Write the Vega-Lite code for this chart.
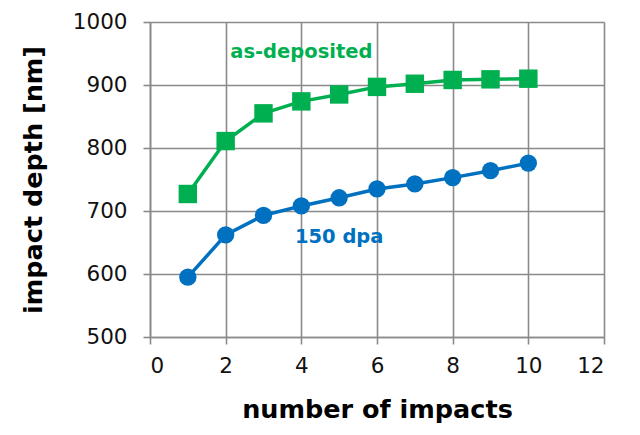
{
  "$schema": "https://vega.github.io/schema/vega-lite/v6.json",
  "width": 454,
  "height": 315,
  "padding": {"left": 150, "top": 22, "right": 36, "bottom": 98},
  "autosize": {"type": "none"},
  "background": "white",
  "config": {
    "view": {"stroke": null},
    "font": "DejaVu Sans"
  },
  "datasets": {
    "series": [
      {"impacts": 1, "depth": 727, "sample": "as-deposited"},
      {"impacts": 2, "depth": 811, "sample": "as-deposited"},
      {"impacts": 3, "depth": 855, "sample": "as-deposited"},
      {"impacts": 4, "depth": 874, "sample": "as-deposited"},
      {"impacts": 5, "depth": 885, "sample": "as-deposited"},
      {"impacts": 6, "depth": 897, "sample": "as-deposited"},
      {"impacts": 7, "depth": 902, "sample": "as-deposited"},
      {"impacts": 8, "depth": 908, "sample": "as-deposited"},
      {"impacts": 9, "depth": 909, "sample": "as-deposited"},
      {"impacts": 10, "depth": 910, "sample": "as-deposited"},
      {"impacts": 1, "depth": 595, "sample": "150 dpa"},
      {"impacts": 2, "depth": 662, "sample": "150 dpa"},
      {"impacts": 3, "depth": 693, "sample": "150 dpa"},
      {"impacts": 4, "depth": 708, "sample": "150 dpa"},
      {"impacts": 5, "depth": 721, "sample": "150 dpa"},
      {"impacts": 6, "depth": 735, "sample": "150 dpa"},
      {"impacts": 7, "depth": 743, "sample": "150 dpa"},
      {"impacts": 8, "depth": 753, "sample": "150 dpa"},
      {"impacts": 9, "depth": 764, "sample": "150 dpa"},
      {"impacts": 10, "depth": 776, "sample": "150 dpa"}
    ],
    "labels": [
      {"impacts": 4.0, "depth": 953, "sample": "as-deposited"},
      {"impacts": 5.0, "depth": 658, "sample": "150 dpa"}
    ]
  },
  "layer": [
    {
      "data": {"name": "series"},
      "mark": {"type": "line", "strokeWidth": 3.5},
      "encoding": {
        "x": {
          "field": "impacts", "type": "quantitative",
          "scale": {"domain": [0, 12], "nice": false, "zero": false},
          "axis": {
            "values": [0, 2, 4, 6, 8, 10, 12],
            "format": "d",
            "title": "number of impacts",
            "titleFontSize": 25.5, "titleFontWeight": "bold", "titleColor": "#000",
            "titlePadding": 21,
            "labelFontSize": 21.5, "labelColor": "#111", "labelFontWeight": "normal",
            "labelPadding": 11,
            "domainColor": "#8a8a8a", "domainWidth": 1.6,
            "tickColor": "#8a8a8a", "tickWidth": 1.6, "tickSize": 7,
            "gridColor": "#8a8a8a", "gridWidth": 1.6, "gridOpacity": 1
          }
        },
        "y": {
          "field": "depth", "type": "quantitative",
          "scale": {"domain": [500, 1000], "nice": false, "zero": false},
          "axis": {
            "values": [500, 600, 700, 800, 900, 1000],
            "format": "d",
            "title": "impact depth [nm]",
            "titleFontSize": 25.5, "titleFontWeight": "bold", "titleColor": "#000",
            "titlePadding": 26,
            "labelFontSize": 21.5, "labelColor": "#111",
            "labelPadding": 16,
            "domainColor": "#8a8a8a", "domainWidth": 1.6,
            "tickColor": "#8a8a8a", "tickWidth": 1.6, "tickSize": 7,
            "gridColor": "#8a8a8a", "gridWidth": 1.6, "gridOpacity": 1
          }
        },
        "color": {
          "field": "sample", "type": "nominal",
          "scale": {"domain": ["as-deposited", "150 dpa"], "range": ["#00B050", "#0070C0"]},
          "legend": null
        }
      }
    },
    {
      "data": {"name": "series"},
      "mark": {"type": "point", "filled": true, "opacity": 1},
      "encoding": {
        "x": {"field": "impacts", "type": "quantitative"},
        "y": {"field": "depth", "type": "quantitative"},
        "color": {"field": "sample", "type": "nominal", "legend": null},
        "shape": {
          "field": "sample", "type": "nominal",
          "scale": {"domain": ["as-deposited", "150 dpa"], "range": ["square", "circle"]},
          "legend": null
        },
        "size": {
          "field": "sample", "type": "nominal",
          "scale": {"domain": ["as-deposited", "150 dpa"], "range": [340, 300]},
          "legend": null
        }
      }
    },
    {
      "data": {"name": "labels"},
      "mark": {"type": "text", "fontSize": 19.5, "fontWeight": "bold", "align": "center", "baseline": "middle"},
      "encoding": {
        "x": {"field": "impacts", "type": "quantitative"},
        "y": {"field": "depth", "type": "quantitative"},
        "text": {"field": "sample"},
        "color": {"field": "sample", "type": "nominal", "legend": null}
      }
    }
  ]
}
